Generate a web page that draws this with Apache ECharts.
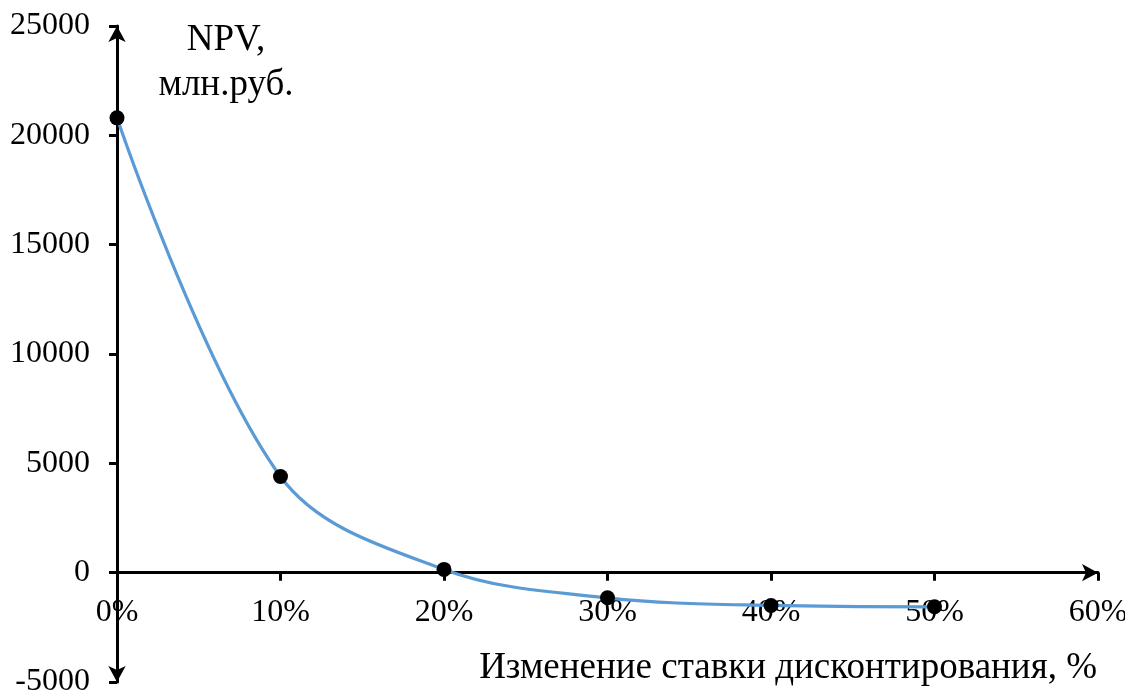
<!DOCTYPE html>
<html>
<head>
<meta charset="utf-8">
<script src="https://cdn.jsdelivr.net/npm/echarts@6/dist/echarts.min.js"></script>
<style>
html,body{margin:0;padding:0;background:#fff;}
#chart{width:1125px;height:695px;}
</style>
</head>
<body>
<div id="chart"></div>
<script>
const rates = [0, 10, 20, 30, 40, 50];
const npv = [20800, 4400, 150, -1150, -1500, -1560];
const yTitle = 'NPV,\nмлн.руб.';
const xTitle = 'Изменение ставки дисконтирования, %';

const font = 'Liberation Serif';
const yMin = -5000, yMax = 25000;
const gTop = 26, gBottom = 13, H = 695;
const plotH = H - gTop - gBottom;
const zeroY = gTop + plotH * (yMax / (yMax - yMin));

const chart = echarts.init(document.getElementById('chart'));
chart.setOption({
  animation: false,
  backgroundColor: '#fff',
  title: [
    {text: yTitle, left: 221, top: 13, textAlign: 'center',
     textStyle: {fontFamily: font, fontSize: 37, fontWeight: 'normal', color: '#000', lineHeight: 45}},
    {text: xTitle, right: 23, top: 645,
     textStyle: {fontFamily: font, fontSize: 37, fontWeight: 'normal', color: '#000'}}
  ],
  grid: [
    {left: 117, right: 27, top: gTop, bottom: gBottom, containLabel: false, outerBoundsMode: 'none'},
    {left: 117, right: 27, top: gTop, bottom: H - zeroY, containLabel: false, outerBoundsMode: 'none'}
  ],
  xAxis: [
    {gridIndex: 0, type: 'value', min: 0, max: 60, interval: 10, show: false},
    {gridIndex: 1, type: 'value', min: 0, max: 60, interval: 10,
     axisLine: {onZero: false, lineStyle: {color: '#000', width: 3}, symbol: ['none', 'arrow'], symbolSize: [13, 16]},
     axisTick: {show: true, length: 8, lineStyle: {color: '#000', width: 3}},
     axisLabel: {formatter: '{value}%', fontFamily: font, fontSize: 32, color: '#000', margin: 24},
     splitLine: {show: false}}
  ],
  yAxis: [
    {gridIndex: 0, type: 'value', min: yMin, max: yMax, interval: 5000,
     axisLine: {onZero: false, lineStyle: {color: '#000', width: 3}, symbol: ['arrow', 'arrow'], symbolSize: [13, 16]},
     axisTick: {show: true, length: 8, lineStyle: {color: '#000', width: 3}},
     axisLabel: {fontFamily: font, fontSize: 32, color: '#000', margin: 27, formatter: v => String(v)},
     splitLine: {show: false}},
    {gridIndex: 1, type: 'value', min: 0, max: 1, show: false}
  ],
  series: [{
    type: 'line',
    xAxisIndex: 0, yAxisIndex: 0,
    data: rates.map((r, i) => [r, npv[i]]),
    smooth: 0.35,
    symbol: 'circle', symbolSize: 15,
    itemStyle: {color: '#000'},
    lineStyle: {color: '#5B9BD5', width: 3.2},
    z: 3
  }]
});
</script>
</body>
</html>
